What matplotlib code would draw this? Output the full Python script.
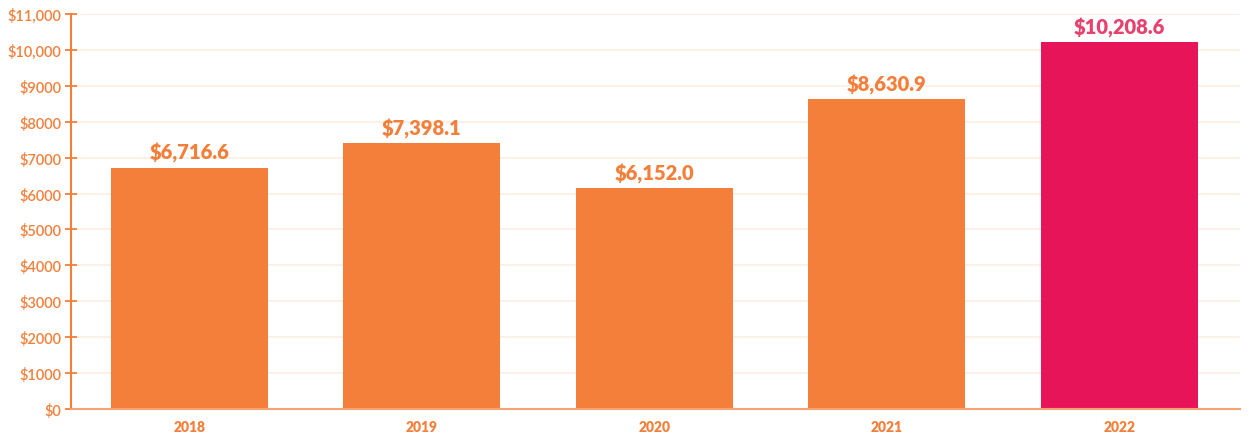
import matplotlib
matplotlib.use("Agg")
import matplotlib.pyplot as plt
from matplotlib.ticker import FuncFormatter

years = ["2018", "2019", "2020", "2021", "2022"]
values = [6716.6, 7398.1, 6152.0, 8630.9, 10208.6]
value_labels = ["$6,716.6", "$7,398.1", "$6,152.0", "$8,630.9", "$10,208.6"]

orange = "#F47F3A"
pink = "#E8145A"
bar_colors = [orange, orange, orange, orange, pink]
label_colors = [orange, orange, orange, orange, "#E8416E"]

plt.rcParams["font.family"] = ["Lato", "DejaVu Sans"]

fig = plt.figure(figsize=(12.49, 4.39), dpi=100)
ax = fig.add_axes([71 / 1249, 29 / 439, (1240 - 71) / 1249, (410 - 15) / 439])

x = list(range(len(years)))
ax.bar(x, values, width=0.675, color=bar_colors, zorder=2)

for xi, v, lab, c in zip(x, values, value_labels, label_colors):
    ax.text(xi, v + 150, lab, ha="center", va="bottom", fontsize=14.5,
            fontweight="heavy", color=c)

ax.set_xlim(-0.51, 4.52)
ax.set_ylim(0, 11000)
ax.set_yticks(range(0, 11001, 1000))


def money(v, pos):
    v = int(v)
    if v >= 10000:
        return "${:,}".format(v)
    return "${}".format(v)


ax.yaxis.set_major_formatter(FuncFormatter(money))
ax.set_xticks(x)
ax.set_xticklabels(years, fontweight="heavy")

ax.grid(axis="y", color="#FDEEE2", linewidth=1.2, zorder=0)
ax.set_axisbelow(True)

for s in ["top", "right"]:
    ax.spines[s].set_visible(False)
ax.spines["left"].set_color(orange)
ax.spines["left"].set_linewidth(1.5)
ax.spines["bottom"].set_color("#F6A274")
ax.spines["bottom"].set_linewidth(1.5)

ax.tick_params(axis="y", colors=orange, labelsize=10.5, length=8,
               direction="inout", width=1.3, pad=3)
ax.tick_params(axis="x", colors=orange, labelsize=10, length=0, pad=8)
for t in ax.get_yticklabels():
    t.set_fontweight("semibold")

fig.savefig("out.png", dpi=100)
